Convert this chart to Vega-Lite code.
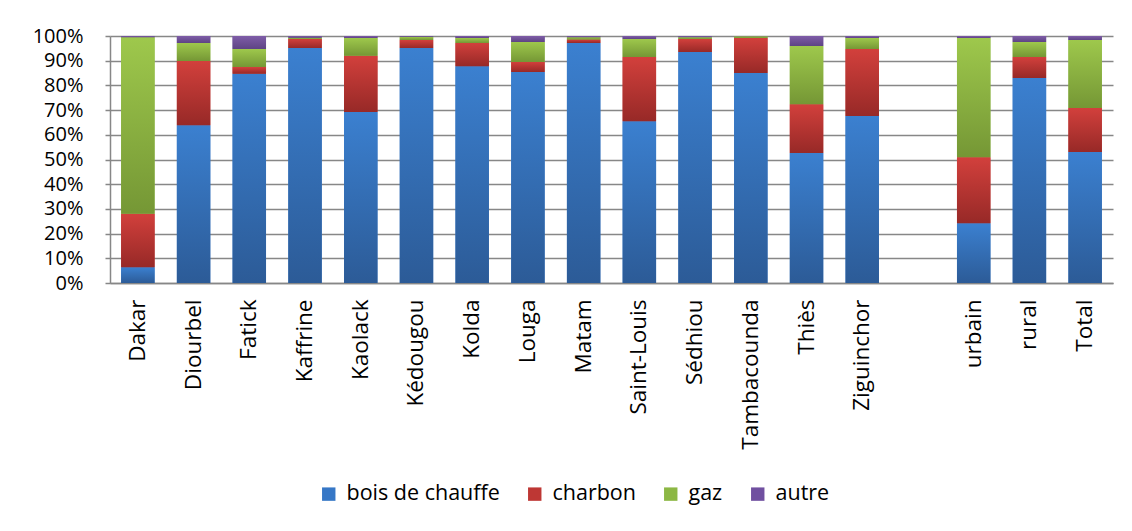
{
  "$schema": "https://vega.github.io/schema/vega-lite/v6.json",
  "autosize": {"type": "none"},
  "width": 1003,
  "height": 247,
  "padding": {"left": 110, "top": 36, "right": 19, "bottom": 248},
  "background": "white",
  "config": {
    "view": {"stroke": null},
    "font": "Open Sans",
    "axis": {"labelFont": "Open Sans", "labelColor": "#000000", "labelFontSize": 22.5}
  },
  "data": {
    "values": [
      {"region": "Dakar", "type": "bois de chauffe", "rang": 1, "value": 6.4},
      {"region": "Dakar", "type": "charbon", "rang": 2, "value": 21.6},
      {"region": "Dakar", "type": "gaz", "rang": 3, "value": 71.5},
      {"region": "Dakar", "type": "autre", "rang": 4, "value": 0.5},
      {"region": "Diourbel", "type": "bois de chauffe", "rang": 1, "value": 63.9},
      {"region": "Diourbel", "type": "charbon", "rang": 2, "value": 26.0},
      {"region": "Diourbel", "type": "gaz", "rang": 3, "value": 7.3},
      {"region": "Diourbel", "type": "autre", "rang": 4, "value": 2.8},
      {"region": "Fatick", "type": "bois de chauffe", "rang": 1, "value": 84.7},
      {"region": "Fatick", "type": "charbon", "rang": 2, "value": 2.7},
      {"region": "Fatick", "type": "gaz", "rang": 3, "value": 7.3},
      {"region": "Fatick", "type": "autre", "rang": 4, "value": 5.3},
      {"region": "Kaffrine", "type": "bois de chauffe", "rang": 1, "value": 95.1},
      {"region": "Kaffrine", "type": "charbon", "rang": 2, "value": 3.7},
      {"region": "Kaffrine", "type": "gaz", "rang": 3, "value": 0.5},
      {"region": "Kaffrine", "type": "autre", "rang": 4, "value": 0.7},
      {"region": "Kaolack", "type": "bois de chauffe", "rang": 1, "value": 69.2},
      {"region": "Kaolack", "type": "charbon", "rang": 2, "value": 22.8},
      {"region": "Kaolack", "type": "gaz", "rang": 3, "value": 7.2},
      {"region": "Kaolack", "type": "autre", "rang": 4, "value": 0.8},
      {"region": "Kédougou", "type": "bois de chauffe", "rang": 1, "value": 95.1},
      {"region": "Kédougou", "type": "charbon", "rang": 2, "value": 3.3},
      {"region": "Kédougou", "type": "gaz", "rang": 3, "value": 1.3},
      {"region": "Kédougou", "type": "autre", "rang": 4, "value": 0.3},
      {"region": "Kolda", "type": "bois de chauffe", "rang": 1, "value": 87.8},
      {"region": "Kolda", "type": "charbon", "rang": 2, "value": 9.4},
      {"region": "Kolda", "type": "gaz", "rang": 3, "value": 2.0},
      {"region": "Kolda", "type": "autre", "rang": 4, "value": 0.8},
      {"region": "Louga", "type": "bois de chauffe", "rang": 1, "value": 85.4},
      {"region": "Louga", "type": "charbon", "rang": 2, "value": 4.1},
      {"region": "Louga", "type": "gaz", "rang": 3, "value": 8.1},
      {"region": "Louga", "type": "autre", "rang": 4, "value": 2.4},
      {"region": "Matam", "type": "bois de chauffe", "rang": 1, "value": 97.2},
      {"region": "Matam", "type": "charbon", "rang": 2, "value": 1.4},
      {"region": "Matam", "type": "gaz", "rang": 3, "value": 0.9},
      {"region": "Matam", "type": "autre", "rang": 4, "value": 0.5},
      {"region": "Saint-Louis", "type": "bois de chauffe", "rang": 1, "value": 65.5},
      {"region": "Saint-Louis", "type": "charbon", "rang": 2, "value": 26.0},
      {"region": "Saint-Louis", "type": "gaz", "rang": 3, "value": 7.3},
      {"region": "Saint-Louis", "type": "autre", "rang": 4, "value": 1.2},
      {"region": "Sédhiou", "type": "bois de chauffe", "rang": 1, "value": 93.5},
      {"region": "Sédhiou", "type": "charbon", "rang": 2, "value": 5.3},
      {"region": "Sédhiou", "type": "gaz", "rang": 3, "value": 0.7},
      {"region": "Sédhiou", "type": "autre", "rang": 4, "value": 0.5},
      {"region": "Tambacounda", "type": "bois de chauffe", "rang": 1, "value": 85.0},
      {"region": "Tambacounda", "type": "charbon", "rang": 2, "value": 14.2},
      {"region": "Tambacounda", "type": "gaz", "rang": 3, "value": 0.7},
      {"region": "Tambacounda", "type": "autre", "rang": 4, "value": 0.1},
      {"region": "Thiès", "type": "bois de chauffe", "rang": 1, "value": 52.6},
      {"region": "Thiès", "type": "charbon", "rang": 2, "value": 19.8},
      {"region": "Thiès", "type": "gaz", "rang": 3, "value": 23.6},
      {"region": "Thiès", "type": "autre", "rang": 4, "value": 4.0},
      {"region": "Ziguinchor", "type": "bois de chauffe", "rang": 1, "value": 67.6},
      {"region": "Ziguinchor", "type": "charbon", "rang": 2, "value": 27.1},
      {"region": "Ziguinchor", "type": "gaz", "rang": 3, "value": 4.5},
      {"region": "Ziguinchor", "type": "autre", "rang": 4, "value": 0.8},
      {"region": "urbain", "type": "bois de chauffe", "rang": 1, "value": 24.2},
      {"region": "urbain", "type": "charbon", "rang": 2, "value": 26.7},
      {"region": "urbain", "type": "gaz", "rang": 3, "value": 48.3},
      {"region": "urbain", "type": "autre", "rang": 4, "value": 0.8},
      {"region": "rural", "type": "bois de chauffe", "rang": 1, "value": 83.0},
      {"region": "rural", "type": "charbon", "rang": 2, "value": 8.5},
      {"region": "rural", "type": "gaz", "rang": 3, "value": 6.1},
      {"region": "rural", "type": "autre", "rang": 4, "value": 2.4},
      {"region": "Total", "type": "bois de chauffe", "rang": 1, "value": 53.0},
      {"region": "Total", "type": "charbon", "rang": 2, "value": 17.8},
      {"region": "Total", "type": "gaz", "rang": 3, "value": 27.6},
      {"region": "Total", "type": "autre", "rang": 4, "value": 1.6}
    ]
  },
  "transform": [
    {"stack": "value", "groupby": ["region"], "sort": [{"field": "rang", "order": "ascending"}], "offset": "normalize", "as": ["y0", "y1"]}
  ],
  "encoding": {
    "x": {
      "field": "region",
      "type": "nominal",
      "scale": {
        "domain": ["Dakar", "Diourbel", "Fatick", "Kaffrine", "Kaolack", "Kédougou", "Kolda", "Louga", "Matam", "Saint-Louis", "Sédhiou", "Tambacounda", "Thiès", "Ziguinchor", " ", "urbain", "rural", "Total"],
        "paddingInner": 0.4,
        "paddingOuter": 0.2
      },
      "axis": {
        "title": null,
        "labelAngle": -90,
        "labelAlign": "right",
        "labelBaseline": "middle",
        "labelPadding": 16,
        "ticks": false,
        "domainColor": "#878787",
        "domainWidth": 1.5,
        "grid": false
      }
    },
    "y": {
      "field": "y1",
      "type": "quantitative",
      "scale": {"domain": [0, 1], "nice": false},
      "axis": {
        "title": null,
        "values": [0, 0.1, 0.2, 0.3, 0.4, 0.5, 0.6, 0.7, 0.8, 0.9, 1],
        "format": ".0%",
        "labelFontSize": 20,
        "grid": true,
        "gridColor": "#878787",
        "gridWidth": 1.5,
        "domainColor": "#878787",
        "domainWidth": 1.5,
        "tickColor": "#878787",
        "tickSize": 5,
        "tickWidth": 1.5,
        "labelPadding": 22
      }
    },
    "y2": {"field": "y0"}
  },
  "layer": [
    {
      "mark": {"type": "bar"},
      "encoding": {
        "color": {
          "field": "type",
          "type": "nominal",
          "scale": {
            "domain": ["bois de chauffe", "charbon", "gaz", "autre"],
            "range": ["#3677C6", "#BE3734", "#8CB744", "#7050A0"]
          },
          "legend": {
            "title": null,
            "orient": "none",
            "direction": "horizontal",
            "legendX": 208,
            "legendY": 447,
            "symbolType": "square",
            "symbolSize": 180,
            "symbolStrokeWidth": 0,
            "labelFontSize": 21.5,
            "labelFont": "Open Sans",
            "labelColor": "#000000",
            "columnPadding": 24,
            "labelOffset": 7
          }
        }
      }
    },
    {
      "transform": [{"filter": "datum.type === 'bois de chauffe'"}],
      "mark": {"type": "bar", "color": {"gradient": "linear", "x1": 0, "y1": 0, "x2": 0, "y2": 1, "stops": [{"offset": 0, "color": "#3B80D0"}, {"offset": 1, "color": "#2C5B97"}]}}
    },
    {
      "transform": [{"filter": "datum.type === 'charbon'"}],
      "mark": {"type": "bar", "color": {"gradient": "linear", "x1": 0, "y1": 0, "x2": 0, "y2": 1, "stops": [{"offset": 0, "color": "#D2403C"}, {"offset": 1, "color": "#972927"}]}}
    },
    {
      "transform": [{"filter": "datum.type === 'gaz'"}],
      "mark": {"type": "bar", "color": {"gradient": "linear", "x1": 0, "y1": 0, "x2": 0, "y2": 1, "stops": [{"offset": 0, "color": "#9EC84C"}, {"offset": 1, "color": "#759735"}]}}
    },
    {
      "transform": [{"filter": "datum.type === 'autre'"}],
      "mark": {"type": "bar", "color": {"gradient": "linear", "x1": 0, "y1": 0, "x2": 0, "y2": 1, "stops": [{"offset": 0, "color": "#7F5DA8"}, {"offset": 1, "color": "#5E4484"}]}}
    }
  ]
}
